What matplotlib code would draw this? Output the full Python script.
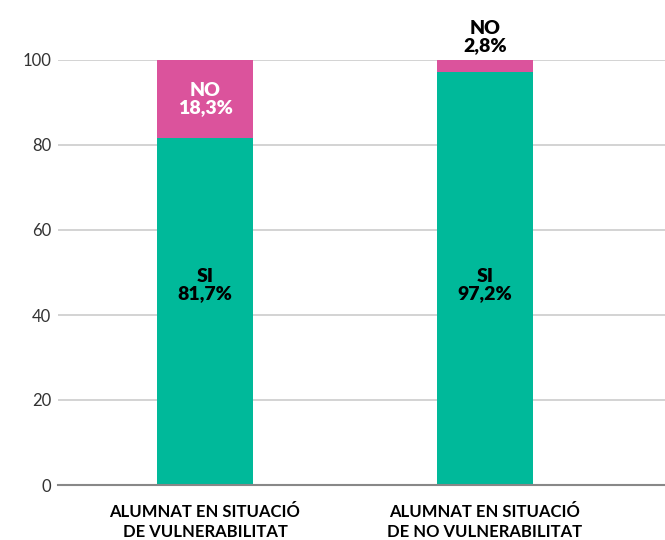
import matplotlib
matplotlib.use('Agg')
import matplotlib.pyplot as plt
import numpy as np

categories = ['ALUMNAT EN SITUACIÓ\nDE VULNERABILITAT', 'ALUMNAT EN SITUACIÓ\nDE NO VULNERABILITAT']
si_values = [81.7, 97.2]
no_values = [18.3, 2.8]
si_labels = ['SI\n81,7%', 'SI\n97,2%']
no_labels = ['NO\n18,3%', 'NO\n2,8%']
yticks = [0, 20, 40, 60, 80, 100]

green = '#00B99A'
pink = '#DB539C'

plt.rcParams['font.family'] = ['Lato', 'DejaVu Sans']

fig = plt.figure(figsize=(6.65, 5.4), dpi=100)
ax = fig.add_axes([58 / 665, 55 / 540, 1 - 58 / 665, 425 / 540])

x = np.arange(len(categories))
width = 0.343
ax.bar(x, si_values, width, color=green, zorder=3)
ax.bar(x, no_values, width, bottom=si_values, color=pink, zorder=3)

# labels: SI text sits at the same height in both bars
for i in range(len(categories)):
    ax.text(x[i], 47, si_labels[i], ha='center', va='center',
            fontsize=14, fontweight='heavy', color='black', linespacing=1.0, zorder=4)
    if no_values[i] > 10:
        ax.text(x[i], si_values[i] + no_values[i] / 2, no_labels[i], ha='center', va='center',
                fontsize=14, fontweight='heavy', color='white', linespacing=1.0, zorder=4)
    else:
        ax.text(x[i], 100 + 1.5, no_labels[i], ha='center', va='bottom',
                fontsize=14, fontweight='heavy', color='black', linespacing=1.0,
                clip_on=False, zorder=4)

ax.set_xlim(-0.525, 1.643)
ax.set_ylim(0, 100)
ax.set_yticks(yticks)
ax.set_yticklabels([str(v) for v in yticks], fontsize=12, color='#333333')
ax.set_xticks(x)
ax.set_xticklabels(categories, fontsize=12, fontweight='bold', color='black', linespacing=1.25)
ax.tick_params(axis='y', length=0, pad=5)
ax.tick_params(axis='x', length=0, pad=14)

ax.yaxis.grid(True, color='#cccccc', linewidth=1.2, zorder=0)
for side in ['left', 'right', 'top']:
    ax.spines[side].set_visible(False)
ax.spines['bottom'].set_color('#888888')
ax.spines['bottom'].set_linewidth(1.5)
ax.spines['bottom'].set_zorder(5)

fig.savefig('out.png', dpi=100)
